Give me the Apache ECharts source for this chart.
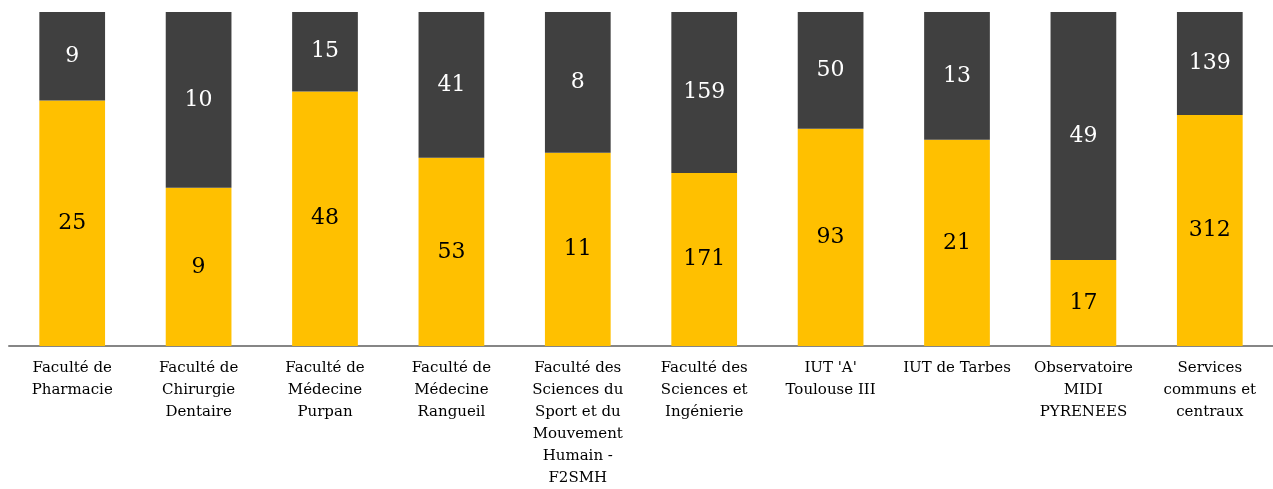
<!DOCTYPE html>
<html>
<head>
<meta charset="utf-8">
<script src="https://cdn.jsdelivr.net/npm/echarts@6/dist/echarts.min.js"></script>
<style>
  html, body { margin: 0; padding: 0; background: #fff; }
  #chart { width: 1273px; height: 489px; }
</style>
</head>
<body>
<div id="chart"></div>
<script>
// composantes (axis labels, line breaks as in the original)
const categories = [
  'Faculté de\nPharmacie',
  'Faculté de\nChirurgie\nDentaire',
  'Faculté de\nMédecine\nPurpan',
  'Faculté de\nMédecine\nRangueil',
  'Faculté des\nSciences du\nSport et du\nMouvement\nHumain -\nF2SMH',
  'Faculté des\nSciences et\nIngénierie',
  "IUT 'A'\nToulouse III",
  'IUT de Tarbes',
  'Observatoire\nMIDI\nPYRENEES',
  'Services\ncommuns et\ncentraux'
];
const yellowValues = [25, 9, 48, 53, 11, 171, 93, 21, 17, 312];
const darkValues = [9, 10, 15, 41, 8, 159, 50, 13, 49, 139];

const FONT = 'DejaVu Serif';

// 100% stacked: share of each bar
const totals = yellowValues.map((v, i) => v + darkValues[i]);
const yellowPct = yellowValues.map((v, i) => v / totals[i] * 100);
const darkPct = darkValues.map((v, i) => v / totals[i] * 100);

const chart = echarts.init(document.getElementById('chart'));
chart.setOption({
  animation: false,
  grid: { left: 9, width: 1274, top: 12, bottom: 139, containLabel: false },
  xAxis: {
    type: 'category',
    data: categories,
    axisLine: { lineStyle: { color: '#868686', width: 2 } },
    axisTick: { show: false },
    axisLabel: {
      interval: 0,
      color: '#000',
      fontFamily: FONT,
      fontSize: 15,
      lineHeight: 22,
      margin: 11,
      verticalAlign: 'top'
    }
  },
  yAxis: { type: 'value', min: 0, max: 100, show: false, splitLine: { show: false } },
  series: [
    {
      type: 'bar',
      stack: 'total',
      barWidth: '52%',
      data: yellowPct,
      itemStyle: { color: '#FFC000' },
      label: {
        show: true,
        position: 'inside',
        color: '#000',
        fontFamily: FONT,
        fontSize: 22,
        formatter: p => yellowValues[p.dataIndex]
      }
    },
    {
      type: 'bar',
      stack: 'total',
      barWidth: '52%',
      data: darkPct,
      itemStyle: { color: '#404040' },
      label: {
        show: true,
        position: 'inside',
        color: '#fff',
        fontFamily: FONT,
        fontSize: 22,
        formatter: p => darkValues[p.dataIndex]
      }
    }
  ]
});
</script>
</body>
</html>
